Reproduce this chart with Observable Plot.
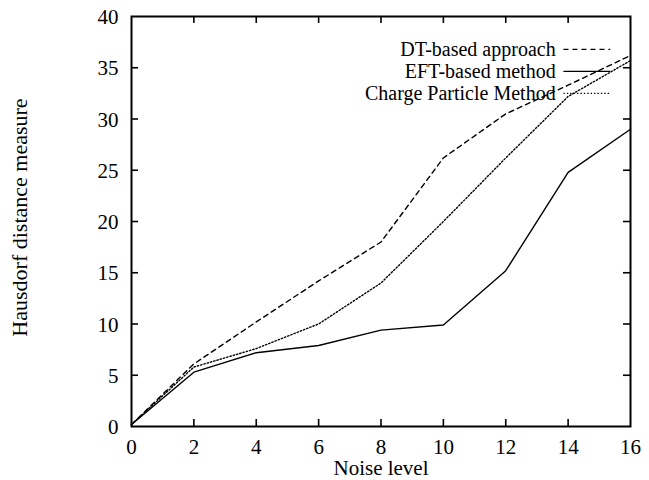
<!DOCTYPE html>
<html>
<head>
<meta charset="utf-8">
<script src="https://cdn.jsdelivr.net/npm/d3@7"></script>
<script src="https://cdn.jsdelivr.net/npm/@observablehq/plot@0.6"></script>
<style>
  html, body { margin: 0; padding: 0; background: #fff; }
  svg { display: block; }
</style>
</head>
<body>
<div id="chart"></div>
<script>
const noise = [0, 2, 4, 6, 8, 10, 12, 14, 16];
const dtValues = [0.2, 6.1, 10.2, 14.2, 18.0, 26.2, 30.5, 33.3, 36.2];
const eftValues = [0.2, 5.3, 7.2, 7.9, 9.4, 9.9, 15.2, 24.8, 29.0];
const cpValues = [0.2, 5.8, 7.6, 10.0, 14.0, 20.0, 26.2, 32.2, 35.7];

const seriesNames = ["DT-based approach", "EFT-based method", "Charge Particle Method"];
const seriesDash = ["5,4", null, "1.4,2"];
const xTicks = [0, 2, 4, 6, 8, 10, 12, 14, 16];
const yTicks = [0, 5, 10, 15, 20, 25, 30, 35, 40];
const xDomain = [0, 16];
const yDomain = [0, 40];

// legend placement (data units)
const legendTextX = 13.6;
const legendLineX = [13.85, 15.35];
const legendRowY = [36.8, 34.65, 32.5];
// inward tick length (pixels)
const tickLen = 7;

const seriesValues = [dtValues, eftValues, cpValues];
const rows = seriesNames.flatMap((name, i) =>
  noise.map((x, j) => ({series: name, x, y: seriesValues[i][j]})));

const legendRows = seriesNames.map((name, i) => ({name, i, y: legendRowY[i]}));
const innerX = xTicks.filter(t => t > xDomain[0] && t < xDomain[1]);
const innerY = yTicks.filter(t => t > yDomain[0] && t < yDomain[1]);

const font = "Liberation Serif, Times New Roman, serif";

const lineMarks = seriesNames.map((name, i) =>
  Plot.line(rows.filter(d => d.series === name), {
    x: "x", y: "y", stroke: "black", strokeWidth: 1.4,
    strokeDasharray: seriesDash[i] || undefined
  }));

const legendLineMarks = legendRows.map(r =>
  Plot.link([r], {
    x1: () => legendLineX[0], x2: () => legendLineX[1],
    y1: "y", y2: "y", stroke: "black", strokeWidth: 1.2,
    strokeDasharray: seriesDash[r.i] || undefined
  }));

const plotH = 480 - 16 - 54;
const plotW = 649 - 131 - 19;

const chart = Plot.plot({
  width: 649,
  height: 480,
  marginLeft: 131,
  marginRight: 19,
  marginTop: 16,
  marginBottom: 54,
  style: {fontFamily: font, fontSize: "21px", color: "black", background: "white"},
  x: {domain: xDomain},
  y: {domain: yDomain},
  marks: [
    Plot.axisX(xTicks, {anchor: "bottom", tickSize: 0, tickPadding: 13, label: null, fontSize: 21}),
    Plot.axisY(yTicks, {anchor: "left", tickSize: 0, tickPadding: 13, label: null, fontSize: 21, dy: 1}),
    // inward ticks on all four sides
    Plot.ruleX(innerX, {insetTop: plotH - tickLen, stroke: "black", strokeWidth: 1.6}),
    Plot.ruleX(innerX, {insetBottom: plotH - tickLen, stroke: "black", strokeWidth: 1.6}),
    Plot.ruleY(innerY, {insetRight: plotW - tickLen, stroke: "black", strokeWidth: 1.6}),
    Plot.ruleY(innerY, {insetLeft: plotW - tickLen, stroke: "black", strokeWidth: 1.6}),
    ...lineMarks,
    Plot.frame({stroke: "black", strokeWidth: 2}),
    Plot.text(legendRows, {x: () => legendTextX, y: "y", text: "name", textAnchor: "end", fontSize: 20, fill: "black"}),
    ...legendLineMarks,
    Plot.text(["Noise level"], {frameAnchor: "bottom", lineAnchor: "middle", dy: 42, text: d => d, fontSize: 21, fill: "black"}),
    Plot.text(["Hausdorf distance measure"], {frameAnchor: "left", textAnchor: "middle", lineAnchor: "middle", dx: -112, dy: -4, rotate: -90, text: d => d, fontSize: 22, fill: "black"})
  ]
});
document.getElementById("chart").appendChild(chart);
</script>
</body>
</html>
